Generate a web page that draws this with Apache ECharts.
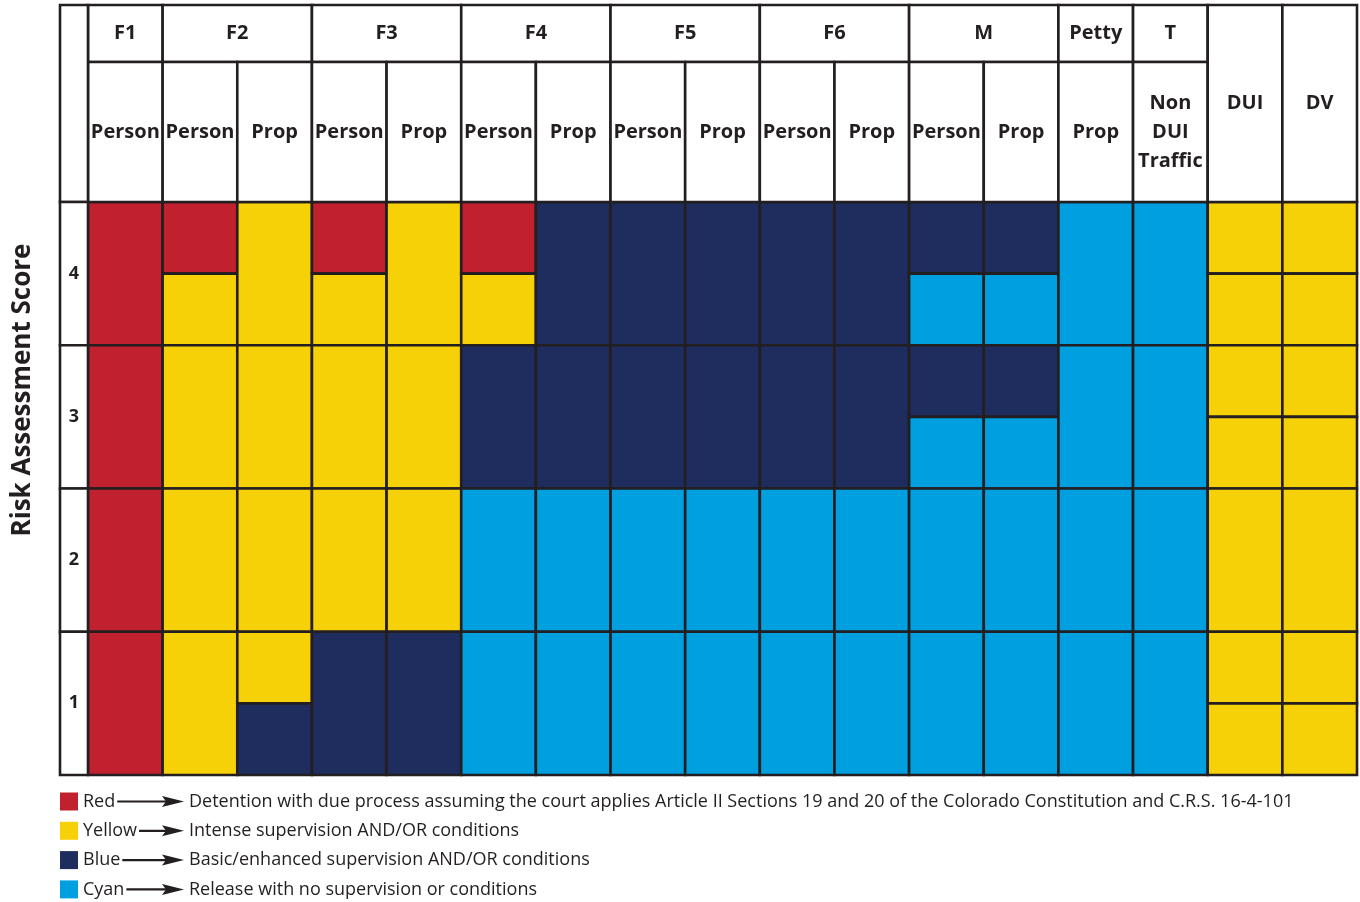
<!DOCTYPE html>
<html><head><meta charset="utf-8">
<script src="https://cdn.jsdelivr.net/npm/echarts@6/dist/echarts.min.js"></script>
<style>html,body{margin:0;padding:0;background:#fff}#c{width:1360px;height:902px}</style>
</head><body><div id="c"></div>
<script>
// ---- data ----
const groupLabels = ['F1','F2','F3','F4','F5','F6','M','Petty','T'];
const groupSpans  = [1,2,2,2,2,2,2,1,1];
const subLabels = ['Person','Person','Prop','Person','Prop','Person','Prop','Person','Prop','Person','Prop','Person','Prop','Prop','Non\nDUI\nTraffic'];
const fullHeaderLabels = ['DUI','DV'];
const scores = [4,3,2,1];
// per column, 'X' = whole cell, 'X/Y' = top half / bottom half
const score4 = ['R','R/Y','Y','R/Y','Y','R/Y','B','B','B','B','B','B/C','B/C','C','C','Y/Y','Y/Y'];
const score3 = ['R','Y','Y','Y','Y','B','B','B','B','B','B','B/C','B/C','C','C','Y/Y','Y/Y'];
const score2 = ['R','Y','Y','Y','Y','C','C','C','C','C','C','C','C','C','C','Y','Y'];
const score1 = ['R','Y','Y/B','B','B','C','C','C','C','C','C','C','C','C','C','Y/Y','Y/Y'];
const legendNames = ['Red','Yellow','Blue','Cyan'];
const legendKeys = ['R','Y','B','C'];
const legendTexts = [
  'Detention with due process assuming the court applies Article II Sections 19 and 20 of the Colorado Constitution and C.R.S. 16-4-101',
  'Intense supervision AND/OR conditions',
  'Basic/enhanced supervision AND/OR conditions',
  'Release with no supervision or conditions'
];
const yTitle = 'Risk Assessment Score';

// ---- style ----
const colorMap = {R:'#C1202F', Y:'#F7D108', B:'#1E2D5E', C:'#009FDF'};
const LINE = '#231F20';
const FONT = '"Open Sans", "Noto Sans", sans-serif';
const H1 = 4.977, H2 = 5.375, XL = -0.375;

// ---- build cells ----
const scoreRows = {4:score4, 3:score3, 2:score2, 1:score1};
const cells = [];
scores.forEach(s => {
  scoreRows[s].forEach((spec, i) => {
    const parts = spec.split('/');
    if (parts.length === 1) cells.push([i, i+1, s-1, s, parts[0]]);
    else { cells.push([i, i+1, s-0.5, s, parts[0]]); cells.push([i, i+1, s-1, s-0.5, parts[1]]); }
  });
});
const headers = [];
let gx = 0;
groupLabels.forEach((g, k) => { headers.push([gx, gx+groupSpans[k], H1, H2, g, 20]); gx += groupSpans[k]; });
subLabels.forEach((l, i) => headers.push([i, i+1, 4, H1, l, 20]));
fullHeaderLabels.forEach((l, j) => headers.push([subLabels.length+j, subLabels.length+j+1, 4, H2, l, 20]));
headers.push([XL, 0, 4, H2, '', 20]);
scores.forEach(s => headers.push([XL, 0, s-1, s, String(s), 18]));

function cellRender(arr, isHeader) {
  return function (params, api) {
    const d = arr[params.dataIndex];
    const p0 = api.coord([d[0], d[3]]);
    const p1 = api.coord([d[1], d[2]]);
    const rect = {type:'rect', shape:{x:p0[0], y:p0[1], width:p1[0]-p0[0], height:p1[1]-p0[1]},
      style:{fill: isHeader ? '#fff' : colorMap[d[4]], stroke: LINE, lineWidth: 2.6}};
    if (!isHeader) return rect;
    return {type:'group', children:[rect, {type:'text', x:(p0[0]+p1[0])/2, y:(p0[1]+p1[1])/2,
      style:{text:d[4], font:'bold '+d[5]+'px '+FONT, fill:LINE, align:'center', verticalAlign:'middle', lineHeight:29}}]};
  };
}

// ---- legend graphics ----
const cv = document.createElement('canvas').getContext('2d');
const LFS = 18;
cv.font = LFS+'px '+FONT;
const graphics = [];
legendNames.forEach((n, i) => {
  const yc = 801.5 + i*29.3;
  graphics.push({type:'rect', left:60, top:yc-9, shape:{width:18, height:18}, style:{fill:colorMap[legendKeys[i]]}});
  graphics.push({type:'text', x:83, y:yc, style:{text:n, font:LFS+'px '+FONT, fill:LINE, verticalAlign:'middle'}});
  const w = cv.measureText(n).width;
  graphics.push({type:'line', shape:{x1:83+w+2, y1:yc, x2:172, y2:yc}, style:{stroke:LINE, lineWidth:2.2}});
  graphics.push({type:'polygon', shape:{points:[[162,yc-5.5],[184,yc],[162,yc+5.5],[166,yc]]}, style:{fill:LINE}});
  graphics.push({type:'text', x:189, y:yc, style:{text:legendTexts[i], font:LFS+'px '+FONT, fill:LINE, verticalAlign:'middle'}});
});

const chart = echarts.init(document.getElementById('c'), null, {renderer:'canvas'});
chart.setOption({
  animation:false,
  grid:{left:60, right:3, top:5, bottom:127, containLabel:false, outerBoundsMode:'none'},
  xAxis:{type:'value', min:XL, max:17, show:false},
  yAxis:{type:'value', min:0, max:H2, axisLine:{show:false}, axisTick:{show:false}, axisLabel:{show:false}, splitLine:{show:false},
    name:yTitle, nameLocation:'middle', nameRotate:90, nameGap:24,
    nameTextStyle:{fontFamily:FONT, fontWeight:'bold', fontSize:26, color:LINE}},
  graphic: graphics,
  series:[
    {type:'custom', renderItem:cellRender(cells, false), data:cells.map(c=>[c[0],c[2]]), clip:false},
    {type:'custom', renderItem:cellRender(headers, true), data:headers.map(c=>[c[0],c[2]]), clip:false}
  ]
});
</script></body></html>
